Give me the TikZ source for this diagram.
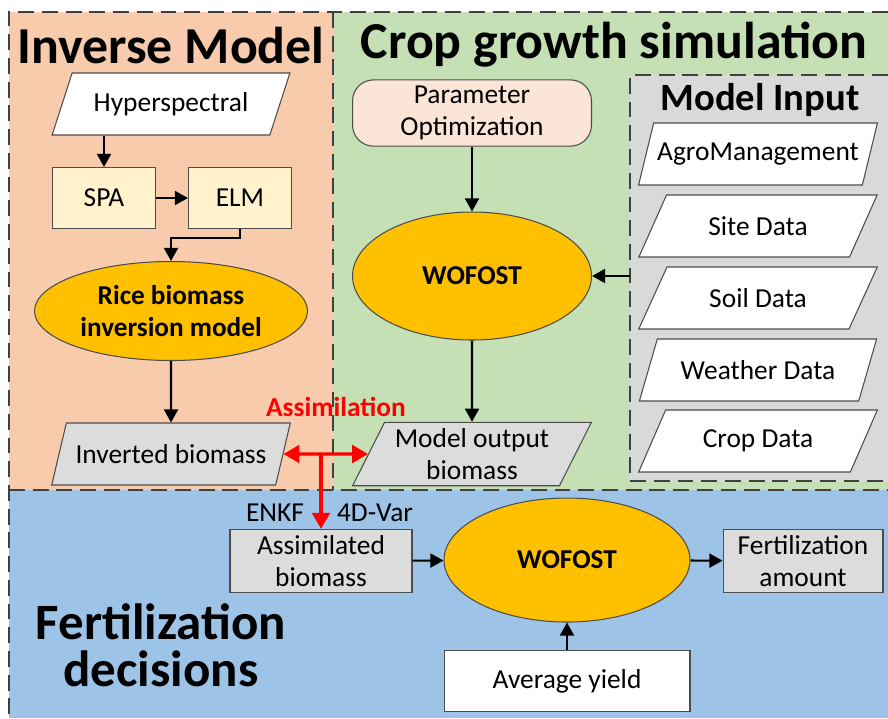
\documentclass[tikz,border=0pt]{standalone}
\usepackage{fontspec}
\setmainfont{Carlito}
\usetikzlibrary{shapes.geometric,arrows.meta}

\definecolor{orangebg}{HTML}{F8CBAD}
\definecolor{greenbg}{HTML}{C5E0B4}
\definecolor{bluebg}{HTML}{9DC3E6}
\definecolor{inputbg}{HTML}{D9D9D9}
\definecolor{boxgray}{HTML}{DCDCDC}
\definecolor{paleyellow}{HTML}{FFF2CC}
\definecolor{peach}{HTML}{FBE5D6}
\definecolor{gold}{HTML}{FFC000}
\definecolor{dashgray}{HTML}{404040}

\begin{document}
\begin{tikzpicture}[x=0.02cm, y=-0.02cm,
    txt/.style={font=\fontsize{15.6}{18.5}\selectfont, align=center},
    para/.style={txt, trapezium, trapezium left angle=69, trapezium right angle=111,
      trapezium stretches=true, draw=black!70, line width=0.6pt,
      minimum width=4.78cm, minimum height=1.24cm, inner xsep=-6pt},
    box/.style={txt, rectangle, draw=black!70, line width=0.6pt, minimum height=1.22cm},
    oval/.style={ellipse, draw=black!70, line width=0.6pt, fill=gold,
      font=\bfseries\fontsize{15.5}{18.5}\selectfont, align=center},
    heading/.style={font=\bfseries\fontsize{29.5}{29.5}\selectfont},
    dashline/.style={draw=dashgray, line width=0.9pt, dash pattern=on 9pt off 4.5pt},
    arr/.style={-{Triangle[length=7.5pt,width=8pt]}, line width=1.2pt},
    redarr/.style={red, line width=1.8pt}]

  \useasboundingbox (0,0) rectangle (888,718);

  % panels
  \fill[orangebg] (9,12) rectangle (333,490);
  \fill[greenbg] (333,12) rectangle (888,490);
  \fill[bluebg] (9,490) rectangle (888,718);
  \fill[inputbg] (630,75) rectangle (888,481);
  \draw[dashline] (888,12) -- (9,12) -- (9,718);
  \draw[dashline] (9,490) -- (888,490);
  \draw[dashline] (333,12) -- (333,490);
  \draw[dashline] (888,75) -- (630,75) -- (630,481) -- (888,481);

  % headings
  \node[heading] (tinv)  at (171,45) {Inverse Model};
  \node[heading] (tcrop) at (614,45) {Crop growth simulation};
  \node[font=\bfseries\fontsize{22}{22}\selectfont] (tinput) at (760,100) {Model Input};
  \node[heading, align=center, font=\bfseries\fontsize{29}{26.5}\selectfont] (tfert) at (161,645) {Fertilization\\decisions};

  % inverse model
  \node[para, fill=white]    (hyper) at (171,104) {Hyperspectral};
  \node[box, fill=paleyellow, minimum width=2.06cm] (spa) at (104,198) {SPA};
  \node[box, fill=paleyellow, minimum width=2.06cm] (elm) at (240,198) {ELM};
  \node[oval, minimum width=4.8cm, minimum height=1.98cm] (rice) at (171,311) {Rice biomass\\inversion model};
  \node[para, fill=boxgray]  (inv) at (171,454) {Inverted biomass};

  % crop growth simulation
  \node[box, rounded corners=0.42cm, fill=peach, minimum width=4.78cm] (param) at (472,113) {Parameter\\Optimization};
  \node[oval, minimum width=4.78cm, minimum height=2.56cm] (wof1) at (472,276) {WOFOST};
  \node[para, fill=boxgray]  (mout) at (472,454) {Model output\\biomass};
  \node[para, fill=white]    (agro) at (758,154) {AgroManagement};
  \node[para, fill=white]    (site) at (758,226) {Site Data};
  \node[para, fill=white]    (soil) at (758,298) {Soil Data};
  \node[para, fill=white]    (weather) at (758,370) {Weather Data};
  \node[para, fill=white]    (crop) at (758,441) {Crop Data};
  \coordinate (inedge) at (630,276);

  % fertilization decisions
  \node[box, fill=boxgray, minimum width=3.64cm] (assim) at (321,561) {Assimilated\\biomass};
  \node[oval, minimum width=4.92cm, minimum height=2.48cm] (wof2) at (567,560) {WOFOST};
  \node[box, fill=boxgray, minimum width=3.2cm] (fert) at (803,561) {Fertilization\\amount};
  \node[box, fill=white, minimum width=4.92cm] (avg) at (567,681) {Average yield};

  % labels
  \node[red, font=\bfseries\fontsize{15.6}{18}\selectfont] (lassim) at (336,407) {Assimilation};
  \node[txt] (lenkf) at (275,513) {ENKF};
  \node[txt] (lvar) at (375,513) {4D-Var};

  % arrows
  \draw[arr] (spa.north |- hyper.south) -- (spa.north);
  \draw[arr] (spa) -- (elm);
  \draw[arr] (elm.south) -- ++(0,9) -| (rice.north);
  \draw[arr] (rice) -- (inv);
  \draw[arr] (param) -- (wof1);
  \draw[arr] (wof1) -- (mout);
  \draw[arr] (inedge) -- (wof1.east);
  \draw[arr] (assim) -- (wof2);
  \draw[arr] (wof2) -- (fert);
  \draw[arr] (avg) -- (wof2);
  \draw[redarr, {Triangle[length=9pt,width=10pt]}-{Triangle[length=9pt,width=10pt]}] (inv.east) -- (mout.west);
  \draw[redarr, -{Triangle[length=9pt,width=10pt]}] (assim.north |- inv.east) -- (assim.north);
\end{tikzpicture}
\end{document}
